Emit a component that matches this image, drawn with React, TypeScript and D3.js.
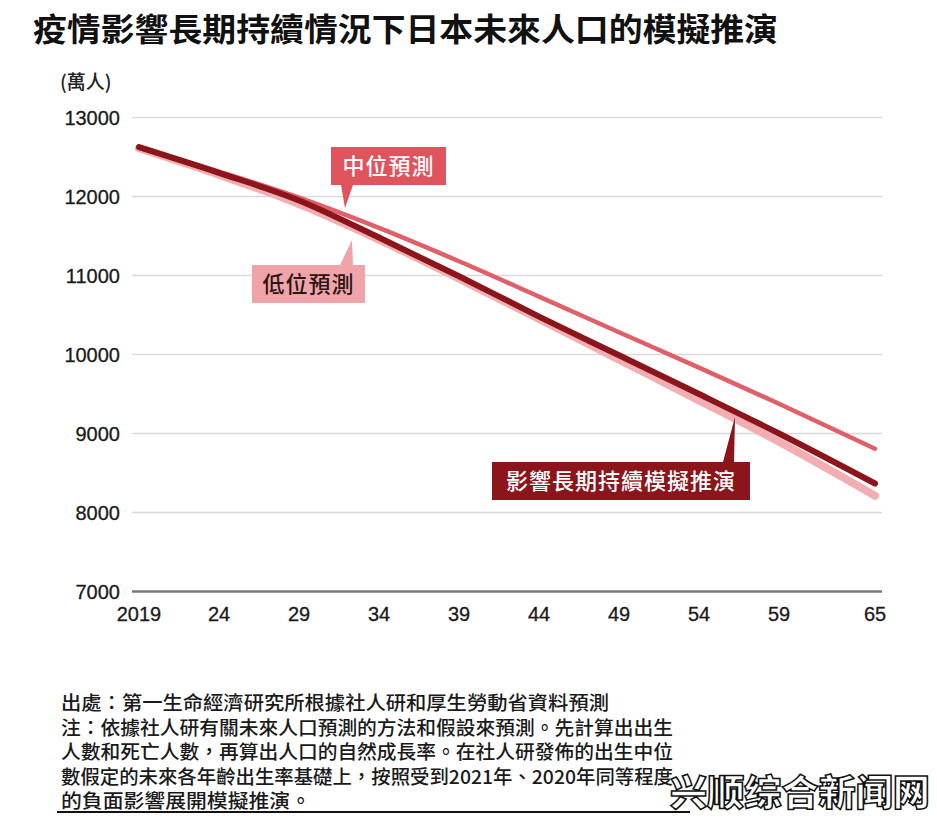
import React from "react";
import * as d3 from "d3";

const title = "疫情影響長期持續情況下日本未來人口的模擬推演";
const unitLabel = "(萬人)";
const years = [2019, 2024, 2029, 2034, 2039, 2044, 2049, 2054, 2059, 2065];
const xTickLabels = ["2019", "24", "29", "34", "39", "44", "49", "54", "59", "65"];
const yTicks = [7000, 8000, 9000, 10000, 11000, 12000, 13000];
const medium = [12625, 12315, 11985, 11602, 11180, 10733, 10282, 9834, 9377, 8808];
const lowVariant = [12610, 12275, 11905, 11455, 10960, 10450, 9935, 9420, 8895, 8213];
const simulation = [12625, 12300, 11950, 11480, 10990, 10480, 9990, 9500, 9000, 8367];
const seriesNames = ["中位預測", "低位預測", "影響長期持續模擬推演"];
const footnotes = [
  "出處：第一生命經濟研究所根據社人研和厚生勞動省資料預測",
  "注：依據社人研有關未來人口預測的方法和假設來預測。先計算出出生",
  "人數和死亡人數，再算出人口的自然成長率。在社人研發佈的出生中位",
  "數假定的未來各年齡出生率基礎上，按照受到2021年、2020年同等程度",
  "的負面影響展開模擬推演。",
];
const footWidths = [548, 612, 612, 612, 250];
const watermark = "兴顺综合新闻网";

const W = 937;
const H = 818;
const CJK = "'Noto Sans CJK TC', 'Noto Sans CJK SC', sans-serif";
const NUM = "'Liberation Sans', Arial, Helvetica, sans-serif";

export default function App() {
  const x = d3.scaleLinear().domain([2019, 2065]).range([139, 875]);
  const y = d3.scaleLinear().domain([7000, 13000]).range([591.5, 117.5]);
  const line = d3
    .line<number>()
    .x((_, i) => x(years[i]))
    .y((d) => y(d))
    .curve(d3.curveMonotoneX);

  const callout = (
    bx: number,
    by: number,
    bw: number,
    bh: number,
    b1: number,
    b2: number,
    tx: number,
    ty: number,
    fill: string,
    color: string,
    label: string,
    fs: number,
    up: boolean
  ) => {
    const baseY = up ? by : by + bh;
    return (
      <g>
        <rect x={bx} y={by} width={bw} height={bh} fill={fill} />
        <path d={`M${b1},${baseY} L${b2},${baseY} L${tx},${ty} Z`} fill={fill} />
        <text
          x={bx + bw / 2}
          y={by + bh / 2 + fs * 0.36}
          textAnchor="middle"
          fontFamily={CJK}
          fontSize={fs}
          fontWeight={500}
          letterSpacing={1}
          fill={color}
        >
          {label}
        </text>
      </g>
    );
  };

  return (
    <svg width={W} height={H} style={{ position: "absolute", left: 0, top: 0, background: "#fff" }}>
      <rect width={W} height={H} fill="#fff" />
      <text x={33} y={41} fontFamily={CJK} fontWeight={700} fontSize={32} fill="#111" textLength={745} lengthAdjust="spacingAndGlyphs">
        {title}
      </text>
      <text x={60} y={89} fontFamily={CJK} fontSize={19} fill="#222" fontWeight={500}>
        {unitLabel}
      </text>

      {yTicks.map((t) => (
        <g key={t}>
          <line
            x1={132}
            x2={882}
            y1={y(t)}
            y2={y(t)}
            stroke={t === 7000 ? "#7a7a7a" : "#d9d9d9"}
            strokeWidth={t === 7000 ? 2.5 : 1.5}
          />
          <text x={120} y={y(t) + 7} textAnchor="end" fontFamily={NUM} fontSize={20} fill="#1a1a1a" stroke="#1a1a1a" strokeWidth={0.3}>
            {t}
          </text>
        </g>
      ))}

      {years.map((yr, i) => (
        <text key={yr} x={x(yr)} y={621} textAnchor="middle" fontFamily={NUM} fontSize={20} fill="#1a1a1a" stroke="#1a1a1a" strokeWidth={0.3}>
          {xTickLabels[i]}
        </text>
      ))}

      <path d={line(lowVariant) || ""} fill="none" stroke="#f3aeb2" strokeWidth={8} strokeLinecap="round" />
      <path d={line(medium) || ""} fill="none" stroke="#e0606a" strokeWidth={4.5} strokeLinecap="round" />
      <path d={line(simulation) || ""} fill="none" stroke="#8c141b" strokeWidth={6} strokeLinecap="round" />

      {callout(331, 147, 115, 38, 341, 353, 345, 208, "#e0545e", "#fff", seriesNames[0], 22, false)}
      {callout(252, 265, 113, 38, 340, 353, 352, 240, "#f0a4a9", "#2a1414", seriesNames[1], 22, true)}
      {callout(492, 462, 258, 38, 723, 734, 735, 417, "#8c141b", "#fff", seriesNames[2], 22, true)}

      {footnotes.map((f, i) => (
        <text
          key={i}
          x={61}
          y={710 + i * 24.5}
          fontFamily={CJK}
          fontSize={19}
          fontWeight={500}
          fill="#1a1a1a"
          textLength={footWidths[i]}
          lengthAdjust="spacingAndGlyphs"
        >
          {f}
        </text>
      ))}
      <line x1={57} x2={690} y1={812} y2={812} stroke="#111" strokeWidth={2} />

      <text
        x={670}
        y={806}
        fontFamily={CJK}
        fontWeight={900}
        fontSize={36}
        fill="#fff"
        stroke="#111"
        strokeWidth={1.5}
        textLength={260}
        lengthAdjust="spacingAndGlyphs"
      >
        {watermark}
      </text>
    </svg>
  );
}
